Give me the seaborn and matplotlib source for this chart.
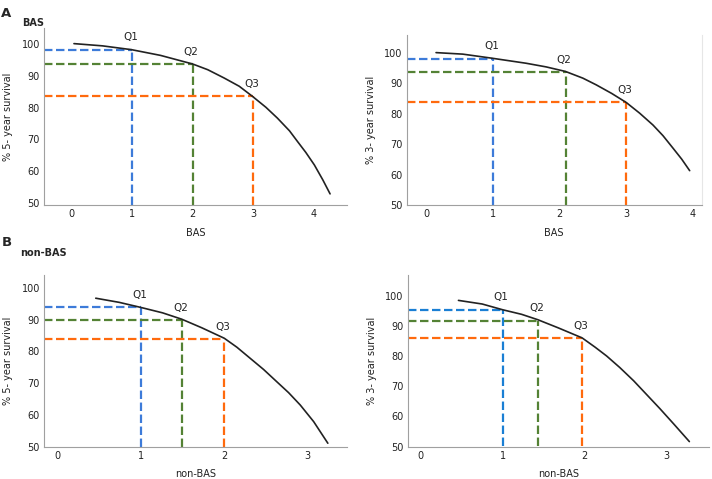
import matplotlib
matplotlib.use('Agg')
import matplotlib.pyplot as plt
import seaborn as sns
import pandas as pd

# Curves (score, % survival)
bas5_x = [0.04, 0.51, 0.99, 1.47, 2.0, 2.25, 2.52, 2.77, 2.99, 3.21, 3.4, 3.6, 3.73, 3.87, 4.01, 4.15, 4.27]
bas5_y = [100.1, 99.4, 98.2, 96.4, 93.7, 91.9, 89.3, 86.7, 83.5, 80.1, 76.7, 72.7, 69.4, 65.9, 62.0, 57.3, 52.9]
bas3_x = [0.15, 0.55, 0.975, 1.5, 1.8, 2.09, 2.35, 2.55, 2.78, 3.0, 3.2, 3.4, 3.55, 3.7, 3.83, 3.95]
bas3_y = [100.1, 99.6, 98.3, 96.6, 95.4, 93.9, 91.7, 89.5, 86.7, 83.7, 80.2, 76.3, 72.8, 68.7, 65.1, 61.3]
non5_x = [0.46, 0.74, 1.0, 1.26, 1.49, 1.73, 2.0, 2.15, 2.31, 2.47, 2.63, 2.77, 2.91, 3.07, 3.24]
non5_y = [96.7, 95.4, 93.8, 92.1, 90.1, 87.4, 84.1, 81.3, 77.8, 74.3, 70.4, 67.0, 63.1, 57.9, 51.1]
non3_x = [0.46, 0.75, 1.0, 1.23, 1.43, 1.68, 1.97, 2.13, 2.27, 2.43, 2.6, 2.76, 2.92, 3.09, 3.28]
non3_y = [98.4, 97.2, 95.3, 93.8, 92.0, 89.3, 86.0, 82.9, 80.0, 76.2, 71.8, 67.2, 62.6, 57.5, 51.7]

# Quartile points
bas5_qx = [1, 2, 3]
bas5_qy = [98.2, 93.6, 83.5]
bas3_qx = [1, 2.09, 3]
bas3_qy = [98.0, 93.6, 83.7]
non5_qx = [1, 1.49, 2]
non5_qy = [93.8, 89.8, 83.8]
non3_qx = [1, 1.43, 1.97]
non3_qy = [95.2, 91.7, 85.9]
q_labels = ['Q1', 'Q2', 'Q3']

ylabels = ['% 5- year survival', '% 3- year survival']
sns.set_style('white')
plt.rcParams['font.family'] = ['DejaVu Sans']

fig = plt.figure(figsize=(7.12, 4.79), dpi=100)

panels = [
    # rect, curve, q points, xlabel, ylabel, xticks, xlim, ylim, blue, right spine
    ([0.0618, 0.572, 0.4256, 0.3695], bas5_x, bas5_y, bas5_qx, bas5_qy, 'BAS', ylabels[0],
     [0, 1, 2, 3, 4], (-0.455, 4.55), (49.4, 105.0), '#3d7bd9', False),
    ([0.5712, 0.572, 0.4143, 0.355], bas3_x, bas3_y, bas3_qx, bas3_qy, 'BAS', ylabels[1],
     [0, 1, 2, 3, 4], (-0.29, 4.13), (50, 105.9), '#3d7bd9', True),
    ([0.0618, 0.0674, 0.4256, 0.3585], non5_x, non5_y, non5_qx, non5_qy, 'non-BAS', ylabels[0],
     [0, 1, 2, 3], (-0.16, 3.47), (50, 104.0), '#3d7bd9', False),
    ([0.5726, 0.0674, 0.4232, 0.3585], non3_x, non3_y, non3_qx, non3_qy, 'non-BAS', ylabels[1],
     [0, 1, 2, 3], (-0.16, 3.52), (50.4, 106.8), '#1a7fd4', False),
]

for rect, cx, cy, qx, qy, xl, yl, xt, xlim, ylim, blue, right_spine in panels:
    ax = fig.add_axes(rect)
    ax.set_xlim(*xlim)
    ax.set_ylim(*ylim)
    colors = [blue, '#548235', '#ff6a0d']
    for i in range(3):
        ax.hlines(qy[i], xlim[0], qx[i], colors=colors[i], linewidth=1.6,
                  linestyles=(0, (3.8, 1.6)), zorder=2)
        ax.vlines(qx[i], ylim[0], qy[i], colors=colors[i], linewidth=1.6,
                  linestyles=(0, (3.8, 1.6)), zorder=2)
        ax.annotate(q_labels[i], (qx[i], qy[i]), xytext=(-1, 5.5), textcoords='offset points',
                    ha='center', va='bottom', fontsize=7.5, color='#222222')
    df = pd.DataFrame({'x': cx, 'y': cy})
    sns.lineplot(data=df, x='x', y='y', ax=ax, color='#222222', linewidth=1.2, sort=False, zorder=3)
    ax.set_xticks(xt)
    ax.set_yticks([50, 60, 70, 80, 90, 100])
    ax.tick_params(length=0, labelsize=7, colors='#222222', pad=3)
    ax.set_xlabel(xl, fontsize=7, color='#222222', labelpad=6)
    ax.set_ylabel(yl, fontsize=7, color='#222222', labelpad=6)
    ax.spines['top'].set_visible(False)
    ax.spines['right'].set_visible(right_spine)
    ax.spines['right'].set_color('#e6e6e6')
    ax.spines['left'].set_color('#a0a0a0')
    ax.spines['bottom'].set_color('#a0a0a0')

fig.text(0.002, 0.985, 'A', fontsize=9.5, fontweight='bold', va='top', ha='left')
fig.text(0.031, 0.962, 'BAS', fontsize=7, fontweight='bold', va='top', ha='left')
fig.text(0.002, 0.507, 'B', fontsize=9.5, fontweight='bold', va='top', ha='left')
fig.text(0.028, 0.482, 'non-BAS', fontsize=7, fontweight='bold', va='top', ha='left')

plt.savefig('out.png', dpi=100)
